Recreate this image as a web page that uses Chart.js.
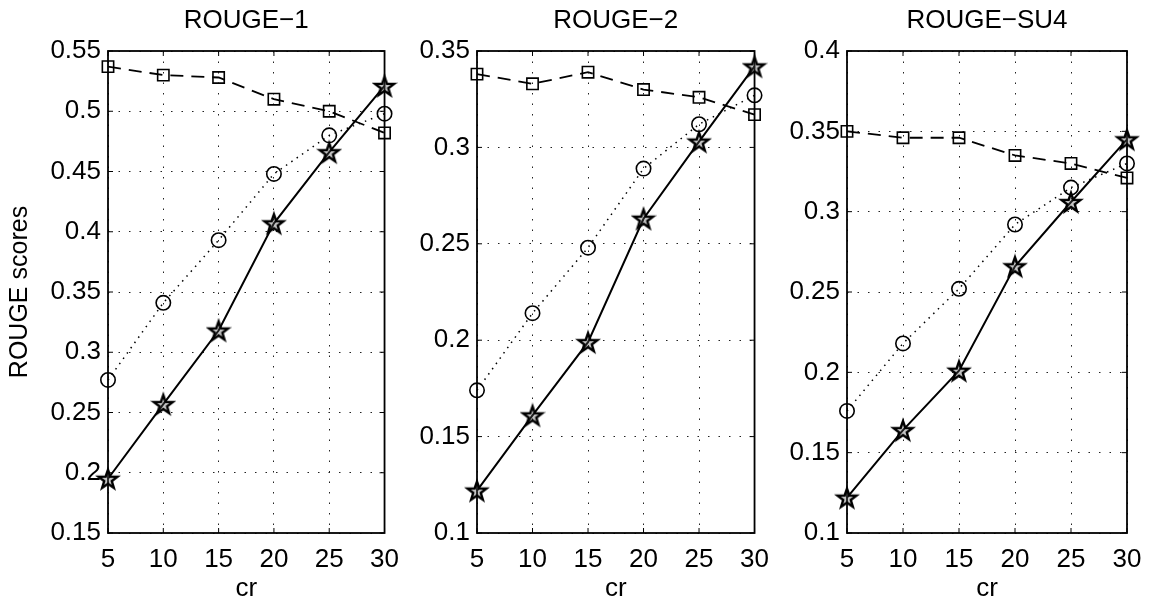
<!DOCTYPE html>
<html>
<head>
<meta charset="utf-8">
<title>ROUGE scores vs cr</title>
<script src="https://cdn.jsdelivr.net/npm/chart.js@4.4.1/dist/chart.umd.min.js"></script>
<style>
  html, body { margin: 0; padding: 0; background: #fff; }
  #wrap { position: relative; width: 1153px; height: 603px; overflow: hidden; }
  #wrap canvas { position: absolute; top: 0; }
</style>
</head>
<body>
<div id="wrap">
  <canvas id="chart1" width="410" height="603" style="left:0px"></canvas>
  <canvas id="chart2" width="400" height="603" style="left:380px"></canvas>
  <canvas id="chart3" width="400" height="603" style="left:753px"></canvas>
</div>
<script>
// compression ratio on the x axis
const crValues = [5, 10, 15, 20, 25, 30];
const xTicks = [5, 10, 15, 20, 25, 30];

// ROUGE-1
const rouge1Square = [0.537, 0.530, 0.528, 0.510, 0.500, 0.482];
const rouge1Circle = [0.277, 0.341, 0.393, 0.448, 0.480, 0.498];
const rouge1Star = [0.195, 0.257, 0.318, 0.407, 0.466, 0.521];
const yTicks1 = [0.15, 0.2, 0.25, 0.3, 0.35, 0.4, 0.45, 0.5, 0.55];

// ROUGE-2
const rouge2Square = [0.338, 0.333, 0.339, 0.330, 0.326, 0.317];
const rouge2Circle = [0.174, 0.214, 0.248, 0.289, 0.312, 0.327];
const rouge2Star = [0.122, 0.161, 0.199, 0.263, 0.303, 0.342];
const yTicks2 = [0.1, 0.15, 0.2, 0.25, 0.3, 0.35];

// ROUGE-SU4
const rougeSU4Square = [0.350, 0.346, 0.346, 0.335, 0.330, 0.321];
const rougeSU4Circle = [0.176, 0.218, 0.252, 0.292, 0.315, 0.330];
const rougeSU4Star = [0.122, 0.164, 0.201, 0.266, 0.306, 0.345];
const yTicksSU4 = [0.1, 0.15, 0.2, 0.25, 0.3, 0.35, 0.4];

const FONT = '"Liberation Sans", Arial, Helvetica, sans-serif';

// pentagram marker like matlab's 'p'
function makeStar(r) {
    const s = Math.ceil(r * 2 + 6);
    const c = document.createElement('canvas');
    c.width = s;
    c.height = s;
    const ctx = c.getContext('2d');
    ctx.beginPath();
    for (let i = 0; i < 10; i++) {
        const rad = i % 2 === 0 ? r : r * 0.4;
        const a = -Math.PI / 2 + i * Math.PI / 5;
        const px = s / 2 + rad * Math.cos(a);
        const py = s / 2 + 1 + rad * Math.sin(a);
        if (i === 0) ctx.moveTo(px, py);
        else ctx.lineTo(px, py);
    }
    ctx.closePath();
    ctx.fillStyle = 'rgba(90,90,90,0.35)';
    ctx.fill();
    ctx.lineJoin = 'miter';
    ctx.lineWidth = 2.4;
    ctx.strokeStyle = '#000';
    ctx.stroke();
    return c;
}
const starImg = makeStar(10);

// box round the axes, inward ticks, panel title and x label
const framePlugin = {
    id: 'frame',
    beforeDatasetsDraw(chart, args, opts) {
        const { ctx, chartArea: a, scales } = chart;
        ctx.save();
        ctx.strokeStyle = '#000';
        ctx.lineWidth = 1.8;
        ctx.strokeRect(a.left, a.top, a.right - a.left, a.bottom - a.top);
        ctx.beginPath();
        scales.x.ticks.forEach(t => {
            const px = scales.x.getPixelForValue(t.value);
            ctx.moveTo(px, a.bottom);
            ctx.lineTo(px, a.bottom - 5);
            ctx.moveTo(px, a.top);
            ctx.lineTo(px, a.top + 5);
        });
        scales.y.ticks.forEach(t => {
            const py = scales.y.getPixelForValue(t.value);
            ctx.moveTo(a.left, py);
            ctx.lineTo(a.left + 5, py);
            ctx.moveTo(a.right, py);
            ctx.lineTo(a.right - 5, py);
        });
        ctx.lineWidth = 1;
        ctx.stroke();

        ctx.fillStyle = '#000';
        ctx.textAlign = 'center';
        ctx.textBaseline = 'middle';
        ctx.font = '26px ' + FONT;
        ctx.fillText(opts.title, (a.left + a.right) / 2, 21);
        ctx.fillText(opts.xLabel, (a.left + a.right) / 2, 589);
        ctx.restore();
    }
};

function series(vals) {
    return crValues.map((x, i) => ({ x: x, y: vals[i] }));
}

function makePanel(id, title, sq, ci, st, yTicks, leftW, rightPad, yLabel) {
    const ctx = document.getElementById(id).getContext('2d');
    return new Chart(ctx, {
        type: 'line',
        data: {
            datasets: [
                {
                    data: series(sq),
                    borderColor: '#000',
                    borderWidth: 1.8,
                    borderDash: [13, 8],
                    pointStyle: 'rect',
                    pointRadius: 8,
                    pointBorderWidth: 1.6,
                    pointBorderColor: '#000',
                    pointBackgroundColor: 'rgba(0,0,0,0)',
                    clip: false
                },
                {
                    data: series(ci),
                    borderColor: '#000',
                    borderWidth: 1.5,
                    borderDash: [1.5, 5],
                    pointStyle: 'circle',
                    pointRadius: 7.2,
                    pointBorderWidth: 1.6,
                    pointBorderColor: '#000',
                    pointBackgroundColor: 'rgba(0,0,0,0)',
                    clip: false
                },
                {
                    data: series(st),
                    borderColor: '#000',
                    borderWidth: 2,
                    pointStyle: starImg,
                    pointRadius: 10,
                    clip: false
                }
            ]
        },
        options: {
            responsive: false,
            animation: false,
            devicePixelRatio: 1,
            layout: { padding: { top: 51, right: rightPad, left: 0, bottom: 0 } },
            plugins: {
                legend: { display: false },
                tooltip: { enabled: false },
                frame: { title: title, xLabel: 'cr' }
            },
            scales: {
                x: {
                    type: 'linear',
                    min: 5,
                    max: 30,
                    afterBuildTicks: s => { s.ticks = xTicks.map(v => ({ value: v })); },
                    afterFit: s => { s.height = 70; },
                    ticks: {
                        color: '#000',
                        font: { family: FONT, size: 26 },
                        padding: 11,
                        maxRotation: 0
                    },
                    grid: { color: '#222', lineWidth: 1, drawTicks: false },
                    border: { display: false, dash: [1.5, 9] }
                },
                y: {
                    type: 'linear',
                    min: yTicks[0],
                    max: yTicks[yTicks.length - 1],
                    afterBuildTicks: s => { s.ticks = yTicks.map(v => ({ value: v })); },
                    afterFit: s => { s.width = leftW; },
                    ticks: {
                        color: '#000',
                        font: { family: FONT, size: 26 },
                        padding: 7,
                        callback: v => String(v)
                    },
                    grid: { color: '#222', lineWidth: 1, drawTicks: false },
                    border: { display: false, dash: [1.5, 9] },
                    title: {
                        display: !!yLabel,
                        text: yLabel || '',
                        color: '#000',
                        font: { family: FONT, size: 25 },
                        padding: { top: 5, bottom: 0 }
                    }
                }
            }
        },
        plugins: [framePlugin]
    });
}

makePanel('chart1', 'ROUGE\u22121', rouge1Square, rouge1Circle, rouge1Star, yTicks1, 108, 21, 'ROUGE scores');
makePanel('chart2', 'ROUGE\u22122', rouge2Square, rouge2Circle, rouge2Star, yTicks2, 97, 22, '');
makePanel('chart3', 'ROUGE\u2212SU4', rougeSU4Square, rougeSU4Circle, rougeSU4Star, yTicksSU4, 94, 26, '');
</script>
</body>
</html>
